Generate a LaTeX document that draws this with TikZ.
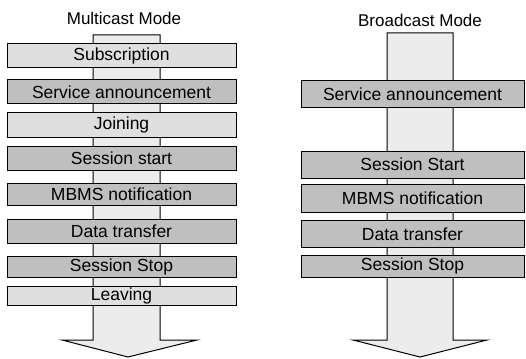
\documentclass[tikz,border=0pt]{standalone}
\usepackage{fontspec}
\setmainfont{Liberation Sans}
\begin{document}
\begin{tikzpicture}[x=1pt,y=-1pt,
    stage/.style={draw,line width=1pt,inner sep=0pt,minimum height=24pt,font=\fontsize{17.5}{18}\selectfont},
    light/.style={stage,fill=gray!25},
    dark/.style={stage,fill=gray!50},
    flow/.style={draw,line width=1pt,fill=gray!15},
    title/.style={font=\fontsize{17}{18}\selectfont}]
    \useasboundingbox (0,0) rectangle (526,358);

    % multicast
    \node[title] (mtitle) at (124,18) {Multicast Mode};
    \draw[flow] (93,35) -- (93,340) -- (62,340) -- (128,357) -- (197,340)
                -- (160,340) -- (160,35) -- cycle;
    \node[light,minimum width=229pt] (msub) at (121.5,55.5) {Subscription};
    \node[dark,minimum width=229pt] (mann) at (121.5,92) {Service announcement};
    \node[light,minimum width=229pt] (mjoin) at (121.5,125) {Joining};
    \node[dark,minimum width=229pt] (mstart) at (121.5,158.5) {Session start};
    \node[dark,minimum width=229pt,minimum height=22pt] (mnotif) at (121.5,194) {MBMS notification};
    \node[dark,minimum width=229pt] (mdata) at (121.5,231) {Data transfer};
    \node[dark,minimum width=229pt,minimum height=21pt] (mstop) at (121.5,266.5) {Session Stop};
    \node[light,minimum width=229pt,minimum height=19pt] (mleave) at (121.5,296) {Leaving};

    % broadcast
    \node[title] (btitle) at (420,20) {Broadcast Mode};
    \draw[flow] (387,33) -- (387,340) -- (353,340) -- (420,357) -- (487,340)
                -- (453,340) -- (453,33) -- cycle;
    \node[dark,minimum width=223pt,minimum height=27pt] (bann) at (412.5,94) {Service announcement};
    \node[dark,minimum width=223pt,minimum height=27pt] (bstart) at (412.5,164.5) {Session Start};
    \node[dark,minimum width=223pt,minimum height=28pt] (bnotif) at (412.5,198.5) {MBMS notification};
    \node[dark,minimum width=223pt,minimum height=27pt] (bdata) at (412.5,234) {Data transfer};
    \node[dark,minimum width=223pt,minimum height=22pt] (bstop) at (412.5,266) {Session Stop};
\end{tikzpicture}
\end{document}
